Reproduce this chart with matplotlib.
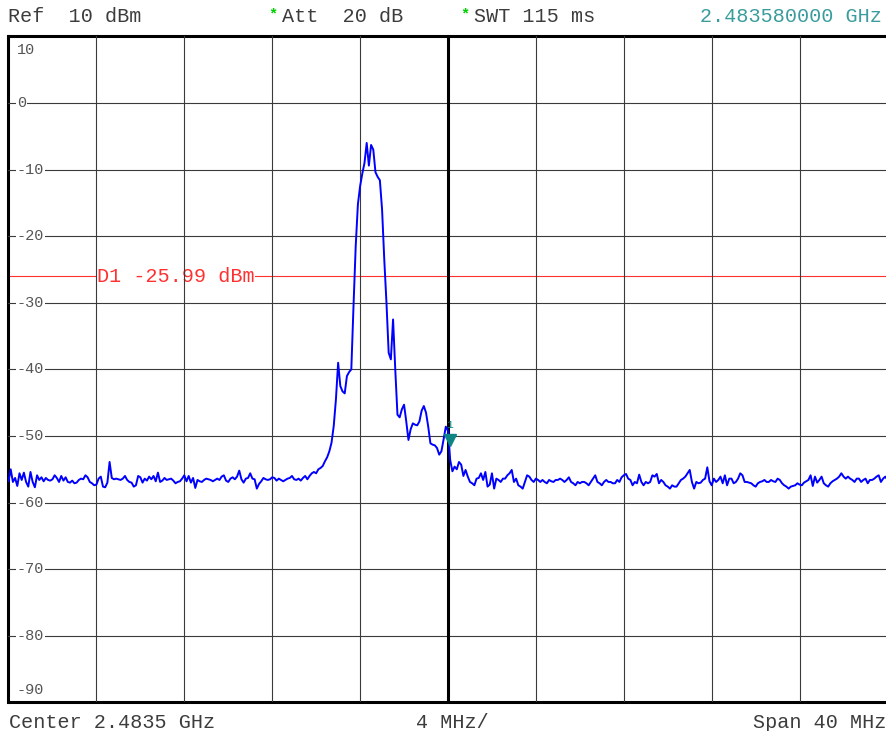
import numpy as np
import matplotlib
matplotlib.use("Agg")
import matplotlib.pyplot as plt

# ---- data ----
center_ghz = 2.4835
span_mhz = 40.0
ref_dbm = 10
range_db = 100
div_mhz = 4
display_line_dbm = -25.99
marker_ghz = 2.48358
marker_level = -50.6
y_labels = [10, 0, -10, -20, -30, -40, -50, -60, -70, -80, -90]

levels = [
    -56.8, -55.0, -56.9, -56.3, -57.5, -55.6, -56.6, -55.5, -56.9, -57.6,
    -55.4, -56.9, -57.7, -55.9, -56.6, -56.2, -56.8, -56.3, -56.6, -56.7,
    -56.5, -55.9, -56.3, -56.9, -56.0, -56.7, -56.2, -56.9, -57.0, -56.7,
    -57.1, -57.0, -56.6, -56.4, -56.5, -55.9, -56.2, -56.9, -57.1, -57.4,
    -57.3, -56.4, -56.1, -57.6, -57.7, -57.0, -53.9, -56.3, -56.5, -56.4,
    -56.5, -56.6, -56.4, -56.0, -56.6, -56.9, -57.0, -57.6, -57.4, -56.0,
    -56.2, -57.0, -56.4, -56.7, -56.1, -56.5, -56.0, -56.8, -55.5, -56.9,
    -56.7, -56.3, -56.6, -56.5, -56.4, -56.7, -57.1, -56.9, -56.8, -56.4,
    -55.9, -56.8, -56.0, -57.0, -56.3, -57.8, -56.6, -56.8, -56.9, -56.6,
    -56.4, -56.5, -56.6, -56.8, -56.6, -56.4, -56.6, -56.1, -55.9, -56.7,
    -56.9, -56.4, -56.2, -56.5, -56.1, -55.2, -56.5, -57.0, -56.4, -56.3,
    -55.6, -56.4, -56.5, -57.9, -57.2, -56.8, -56.3, -56.5, -56.6, -56.5,
    -56.2, -56.3, -56.7, -56.4, -56.6, -56.8, -56.6, -56.4, -56.3, -56.0,
    -56.5, -56.6, -56.4, -56.7, -56.3, -56.0, -56.5, -56.0, -55.6, -55.4,
    -55.6, -55.0, -54.8, -54.5, -53.8, -53.2, -52.3, -51.0, -48.5, -44.5,
    -39.0, -42.5, -43.3, -43.6, -41.0, -40.4, -40.0, -30.5, -21.5, -15.2,
    -12.5, -10.6, -9.0, -6.0, -9.4, -6.3, -7.0, -10.4, -11.1, -11.6,
    -16.0, -23.5, -30.0, -37.5, -38.5, -32.5, -40.0, -46.8, -47.2, -46.0,
    -45.3, -47.8, -50.6, -49.0, -48.1, -48.3, -48.4, -47.8, -46.2, -45.5,
    -46.5, -48.6, -51.1, -51.3, -51.4, -51.8, -52.8, -52.3, -50.5, -48.6,
    -49.2, -53.6, -55.3, -54.6, -55.0, -53.9, -54.3, -56.0, -55.1, -56.1,
    -56.9, -57.1, -57.4, -56.4, -56.3, -55.6, -56.6, -55.4, -57.6, -57.3,
    -55.6, -57.9, -56.4, -56.6, -56.9, -56.4, -56.4, -55.9, -55.6, -55.1,
    -56.9, -56.4, -57.4, -57.6, -57.9, -56.9, -55.9, -56.1, -56.6, -56.9,
    -56.4, -56.6, -56.9, -56.6, -56.9, -57.1, -56.6, -56.8, -56.9, -56.6,
    -56.6, -56.4, -56.6, -56.9, -56.6, -56.2, -56.9, -57.1, -57.4, -56.9,
    -57.1, -56.9, -56.9, -57.1, -57.4, -56.9, -56.4, -55.9, -56.9, -57.1,
    -57.4, -56.9, -56.6, -56.9, -56.9, -57.1, -57.1, -56.6, -56.9, -56.2,
    -55.9, -55.7, -56.4, -56.6, -57.4, -56.9, -57.1, -55.8, -56.9, -57.4,
    -56.9, -57.1, -56.9, -55.9, -56.1, -55.7, -57.1, -56.6, -56.9, -57.4,
    -57.6, -57.9, -57.4, -57.6, -57.6, -57.1, -56.6, -56.4, -56.1, -55.6,
    -55.1, -56.9, -57.9, -56.9, -57.1, -57.0, -56.6, -56.4, -54.7, -56.8,
    -57.4, -56.4, -56.9, -56.6, -56.1, -57.1, -55.9, -57.4, -56.4, -56.4,
    -57.1, -56.9, -56.4, -55.6, -55.9, -56.9, -56.9, -57.0, -57.1, -57.4,
    -57.6, -57.1, -56.9, -56.8, -56.6, -56.9, -56.9, -56.6, -56.8, -56.9,
    -56.4, -56.6, -57.1, -57.4, -57.6, -57.9, -57.6, -57.5, -57.4, -57.1,
    -57.3, -57.4, -57.0, -56.8, -56.6, -55.9, -57.5, -56.1, -57.0, -56.6,
    -56.1, -57.1, -57.4, -57.6, -57.1, -56.8, -56.6, -56.4, -56.1, -55.6,
    -56.1, -56.4, -56.1, -56.4, -56.6, -56.9, -56.4, -56.4, -56.9, -56.6,
    -56.4, -57.1, -56.6, -56.6, -56.4, -56.1, -55.9, -56.9, -56.4, -56.1, -56.6,
]

header_left = "Ref  10 dBm"
header_att = "Att  20 dB"
header_swt = "SWT 115 ms"
header_freq = "2.483580000 GHz"
footer_left = "Center 2.4835 GHz"
footer_mid = "4 MHz/"
footer_right = "Span 40 MHz"
d1_label = "D1 -25.99 dBm"

# ---- figure ----
W, H = 887, 731
fig = plt.figure(figsize=(W / 100, H / 100), dpi=100)
fig.patch.set_facecolor("white")
ax = fig.add_axes([8.5 / W, 1 - 702.4 / H, 879 / W, (702.4 - 36.4) / H])

start = center_ghz - span_mhz / 2000
stop = center_ghz + span_mhz / 2000
freq = np.linspace(start, stop, len(levels))
ax.set_xlim(start, stop)
ax.set_ylim(ref_dbm - range_db, ref_dbm)

xt = [center_ghz + k * div_mhz / 1000 for k in range(-4, 5)]
yt = [v for v in y_labels if v not in (y_labels[0], y_labels[-1])]
ax.set_xticks(xt)
ax.set_yticks(yt)
ax.tick_params(length=0, labelbottom=False, labelleft=False)
ax.set_axisbelow(False)
ax.grid(True, color="#3a3a3a", linewidth=0.8)

for s in ax.spines.values():
    s.set_linewidth(2.2)
    s.set_color("black")

mono = "Liberation Mono"
FS = 14.5

# display line D1
ax.axhline(display_line_dbm, color="#ff3030", linewidth=0.8, zorder=1.5)
ax.text(start + (97 - 8.5) / 879 * (stop - start), display_line_dbm, d1_label,
        color="#ff3030", family=mono, fontsize=FS, va="center", ha="left",
        zorder=1.8, bbox=dict(facecolor="white", edgecolor="none", pad=0.5))

# centre line
ax.axvline(center_ghz, color="black", linewidth=2.2, zorder=3.5)

# y labels
ytr = ax.get_yaxis_transform()
for v in y_labels:
    yy = v
    if v == y_labels[0]:
        yy = v - 2.0
    elif v == y_labels[-1]:
        yy = v + 1.9
    ax.text(0.0095, yy, str(v), transform=ytr, family=mono, fontsize=11,
            color="#555555", va="center", ha="left", zorder=3,
            bbox=dict(facecolor="white", edgecolor="none", pad=0.6))

# trace
ax.plot(freq, levels, color="#0000ff", linewidth=1.4, zorder=4)

# marker
ax.plot([marker_ghz], [marker_level], marker="v", color="#0e8585",
        markersize=8, zorder=5, linestyle="none")
ax.text(marker_ghz, marker_level + 2.3, "1", color="#0e8585", family=mono,
        fontsize=8, ha="center", va="center", zorder=5)

# header / footer texts
def fx(px):
    return px / W

def fy(py):
    return 1 - py / H

hdr = dict(family=mono, fontsize=FS, color="#3c3c3c", va="center")
fig.text(fx(8), fy(17), header_left, ha="left", **hdr)
fig.text(fx(273), fy(14), "*", ha="center", va="center", family=mono,
         fontsize=11, color="#00d000", fontweight="bold")
fig.text(fx(282), fy(17), header_att, ha="left", **hdr)
fig.text(fx(465), fy(14), "*", ha="center", va="center", family=mono,
         fontsize=11, color="#00d000", fontweight="bold")
fig.text(fx(474), fy(17), header_swt, ha="left", **hdr)
fig.text(fx(882), fy(17), header_freq, ha="right", family=mono, fontsize=FS,
         color="#3a9c9c", va="center")

fig.text(fx(9), fy(722), footer_left, ha="left", **hdr)
fig.text(fx(452), fy(722), footer_mid, ha="center", **hdr)
fig.text(fx(886), fy(722), footer_right, ha="right", **hdr)

fig.savefig("out.png", dpi=100, facecolor="white")
